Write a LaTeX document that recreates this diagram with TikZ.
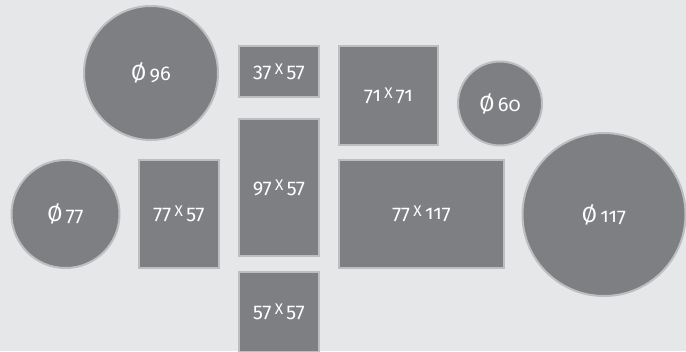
\documentclass[tikz,border=0pt]{standalone}
\usepackage{fontspec}
\setmainfont{Fira Sans}[Numbers=OldStyle]
\usepackage{tikz}
\definecolor{paperbg}{HTML}{E6E7E9}
\definecolor{framefill}{HTML}{7E7F83}
\definecolor{frameedge}{HTML}{BDBEC0}
\newcommand{\sizeX}{\,\raisebox{0.14em}{\fontsize{15.5}{15.5}\selectfont X}\,}
\tikzset{
  fr/.style={draw=frameedge, fill=framefill, line width=2bp, text=white, inner sep=0pt,
             font=\fontsize{20}{22}\selectfont, align=center},
  fr rect/.style={fr, rectangle},
  fr round/.style={fr, circle},
}
\begin{document}
\begin{tikzpicture}[x=1bp, y=-1bp]
  \fill[paperbg] (0,0) rectangle (686,351);
  \useasboundingbox (0,0) rectangle (686,351);
  \begin{scope}
  \clip (0,0) rectangle (686,351);
  \node[fr round, minimum size=134bp] (c96) at (151,73) {{\fontsize{22}{22}\selectfont Ø}\,96};
  \node[fr round, minimum size=108bp] (c77) at (65.5,214) {{\fontsize{22}{22}\selectfont Ø}\,77};
  \node[fr round, minimum size=84bp] (c60) at (500,103.5) {{\fontsize{22}{22}\selectfont Ø}\,60};
  \node[fr round, minimum size=163bp] (c117) at (604,214.5) {{\fontsize{22}{22}\selectfont Ø}\,117};
  \node[fr rect, minimum width=80bp, minimum height=51bp] (r3757) at (279,71.5) {37\sizeX57};
  \node[fr rect, minimum width=80bp, minimum height=137bp] (r9757) at (279,187.5) {97\sizeX57};
  \node[fr rect, minimum width=80bp, minimum height=80bp] (r5757) at (279,312) {57\sizeX57};
  \node[fr rect, minimum width=80bp, minimum height=108bp] (r7757) at (179,214) {77\sizeX57};
  \node[fr rect, minimum width=99bp, minimum height=99bp] (r7171) at (388.5,95.5) {71\sizeX71};
  \node[fr rect, minimum width=165bp, minimum height=108bp] (r77117) at (421.5,214) {77\sizeX117};
  \end{scope}
\end{tikzpicture}
\end{document}
